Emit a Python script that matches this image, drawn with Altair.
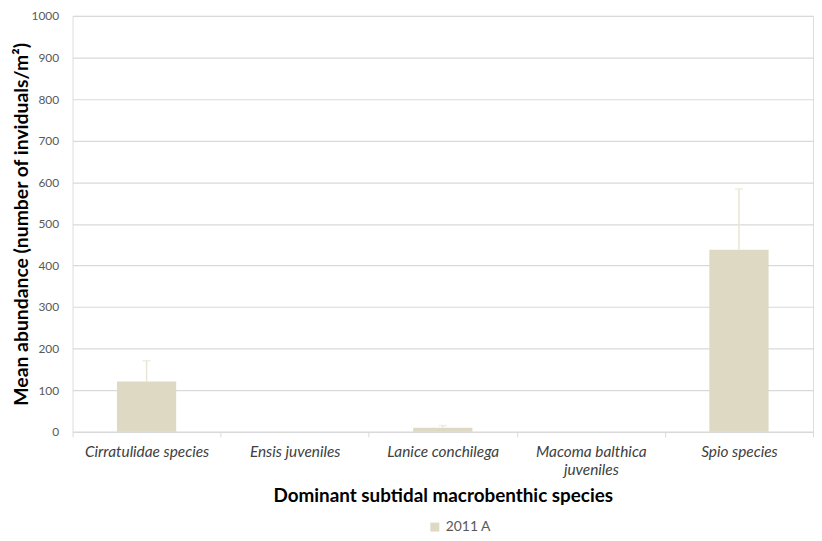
import altair as alt
import pandas as pd

species = ["Cirratulidae species", "Ensis juveniles", "Lanice conchilega",
           "Macoma balthica juveniles", "Spio species"]
means = [121, 0, 10, 0, 438]
errors = [50, 0, 5, 0, 146]
series = ["2011 A"] * 5
y_ticks = [0, 100, 200, 300, 400, 500, 600, 700, 800, 900, 1000]

df = pd.DataFrame({"species": species, "mean": means, "err": errors, "series": series})

FONT = "Lato"
BAR = "#DDD9C3"
ERR = "#EAE6D4"

x = alt.X("species:N", sort=species, title="Dominant subtidal macrobenthic species",
          scale=alt.Scale(paddingInner=0, paddingOuter=0),
          axis=alt.Axis(labelAngle=0, labelFont=FONT, labelFontStyle="italic",
                        labelFontSize=15.5, labelColor="#404040", labelPadding=8,
                        labelLineHeight=18, labelLimit=250,
                        labelExpr="datum.label == 'Macoma balthica juveniles' ? ['Macoma balthica', 'juveniles'] : datum.label",
                        tickBand="extent", tickSize=5, tickColor="#d9d9d9",
                        domainColor="#d9d9d9", domainWidth=1.2,
                        titleFont=FONT, titleFontSize=19, titleFontWeight="bold",
                        titleColor="#000000", titlePadding=9))

base = alt.Chart(df)

bars = base.mark_bar(width={"band": 0.4}, color=BAR).encode(
    x=x,
    y=alt.Y("mean:Q", title="Mean abundance (number of inviduals/m²)",
            scale=alt.Scale(domain=[0, 1000], nice=False),
            axis=alt.Axis(values=y_ticks, format="d", domain=False, ticks=False,
                          gridColor="#d9d9d9", gridWidth=1.2,
                          labelFont=FONT, labelFontSize=12, labelColor="#595959",
                          labelPadding=14,
                          titleFont=FONT, titleFontSize=19.5, titleFontWeight="bold",
                          titleColor="#000000", titlePadding=0)),
    fill=alt.Fill("series:N", scale=alt.Scale(range=[BAR]),
                  legend=alt.Legend(title=None, orient="none", direction="horizontal",
                                    legendX=358, legendY=508, padding=0,
                                    symbolType="square", symbolSize=81,
                                    symbolStrokeWidth=0, labelOffset=4,
                                    labelFont=FONT, labelFontSize=14,
                                    labelColor="#595959")),
)

err_rule = base.transform_filter("datum.err > 0").transform_calculate(
    upper="datum.mean + datum.err"
).mark_rule(color=ERR, strokeWidth=1.5).encode(
    x=alt.X("species:N", sort=species),
    y="mean:Q",
    y2="upper:Q",
)

err_cap = base.transform_filter("datum.err > 0").transform_calculate(
    upper="datum.mean + datum.err"
).mark_tick(color=ERR, size=8, thickness=1.5).encode(
    x=alt.X("species:N", sort=species),
    y="upper:Q",
)

chart = alt.layer(bars, err_rule, err_cap).properties(
    width=812, height=525,
    autosize=alt.AutoSizeParams(type="fit", contains="padding"),
    padding={"left": 3, "top": 0, "right": 0, "bottom": 25},
).configure_view(stroke=None).configure(background="white")

chart.save("out.html", embed_options={"renderer": "svg", "actions": False})
